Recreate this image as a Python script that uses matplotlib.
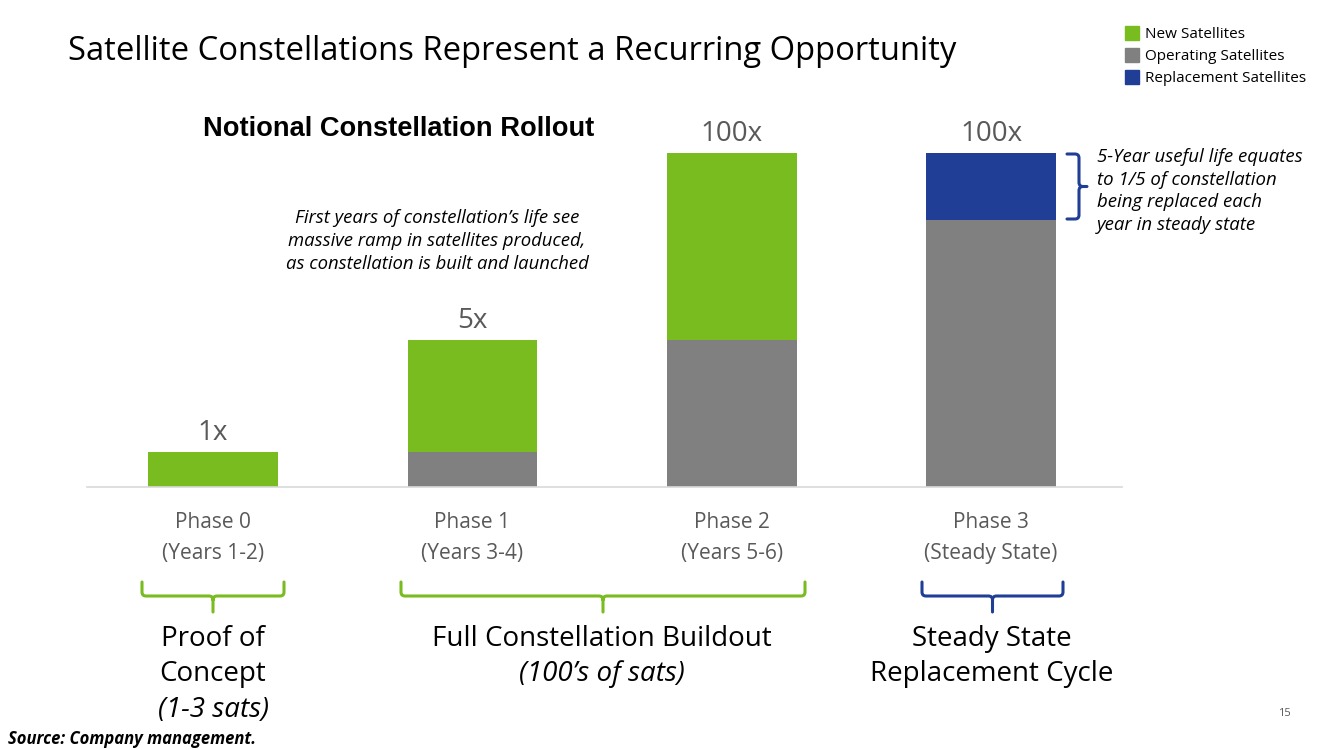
import matplotlib
matplotlib.use("Agg")
import matplotlib.pyplot as plt
from matplotlib.path import Path
from matplotlib.patches import PathPatch, Rectangle

plt.rcParams['font.family'] = ['Open Sans', 'DejaVu Sans']

# data (notional heights)
phases = ["Phase 0\n(Years 1-2)", "Phase 1\n(Years 3-4)", "Phase 2\n(Years 5-6)", "Phase 3\n(Steady State)"]
new_sats = [35, 112, 187, 0]
operating_sats = [0, 35, 147, 267]
replacement_sats = [0, 0, 0, 67]
bar_labels = ["1x", "5x", "100x", "100x"]

GREEN = "#78BC1F"
GREY = "#808080"
BLUE = "#213E96"
TXT = "#595959"

W, H = 1333, 750
fig = plt.figure(figsize=(W / 100, H / 100), dpi=100)
fig.patch.set_facecolor("white")

ax = fig.add_axes([87 / W, 1 - 487 / H, 1035 / W, 387 / H])
x = list(range(len(phases)))
ax.bar(x, operating_sats, width=0.5, color=GREY)
ax.bar(x, new_sats, width=0.5, bottom=operating_sats, color=GREEN)
bottom2 = [a + b for a, b in zip(operating_sats, new_sats)]
ax.bar(x, replacement_sats, width=0.5, bottom=bottom2, color=BLUE)
tops = [a + b for a, b in zip(bottom2, replacement_sats)]
for xi, t, lab in zip(x, tops, bar_labels):
    ax.text(xi, t + 19, lab, ha="center", va="center", fontsize=20, color=TXT)

ax.set_xlim(-0.486, 3.505)
ax.set_ylim(0, 387)
ax.set_yticks([])
ax.set_xticks(x)
ax.set_xticklabels(phases, fontsize=15, color=TXT, linespacing=1.6)
ax.tick_params(axis="x", length=0, pad=18)
for s in ["top", "right", "left"]:
    ax.spines[s].set_visible(False)
ax.spines["bottom"].set_color("#D9D9D9")
ax.spines["bottom"].set_linewidth(1.2)


def fx(px):
    return px / W


def fy(py):
    return 1 - py / H


def ftext(px, py, s, **kw):
    fig.text(fx(px), fy(py), s, **kw)


# titles
ftext(68, 52, "Satellite Constellations Represent a Recurring Opportunity",
      fontsize=23.6, color="black", va="center")
ftext(203, 129, "Notional Constellation Rollout", fontsize=19.6, fontweight="bold",
      family="Liberation Sans", va="center")

# legend
for i, (lab, c) in enumerate([("New Satellites", GREEN), ("Operating Satellites", GREY),
                              ("Replacement Satellites", BLUE)]):
    yy = 33 + 22 * i
    fig.patches.append(Rectangle((fx(1125), fy(yy + 7)), 14 / W, 14 / H,
                                 transform=fig.transFigure, color=c))
    ftext(1145, yy + 1, lab, fontsize=11, va="center")

# annotations
ftext(437, 241, "First years of constellation\u2019s life see\nmassive ramp in satellites produced,\nas constellation is built and launched",
      fontsize=13.3, style="italic", ha="center", va="center", linespacing=1.38)
ftext(1097, 191, "5-Year useful life equates\nto 1/5 of constellation\nbeing replaced each\nyear in steady state",
      fontsize=13.4, style="italic", ha="left", va="center", linespacing=1.33)


def hbrace(x0, x1, ytop, color):
    xm = (x0 + x1) / 2
    yh = ytop + 14
    r = 4
    verts = [(x0, ytop), (x0, yh - r), (x0, yh), (x0 + r, yh),
             (xm - r, yh), (xm, yh), (xm, yh + r), (xm, yh + 16)]
    codes = [Path.MOVETO, Path.LINETO, Path.CURVE3, Path.CURVE3,
             Path.LINETO, Path.CURVE3, Path.CURVE3, Path.LINETO]
    verts += [(xm, yh + r), (xm, yh), (xm + r, yh), (x1 - r, yh), (x1, yh), (x1, yh - r), (x1, ytop)]
    codes += [Path.MOVETO, Path.CURVE3, Path.CURVE3, Path.LINETO, Path.CURVE3, Path.CURVE3, Path.LINETO]
    verts = [(fx(a), fy(b)) for a, b in verts]
    fig.patches.append(PathPatch(Path(verts, codes), transform=fig.transFigure,
                                 fill=False, edgecolor=color, lw=2.2, capstyle="round"))


def vbrace(xl, y0, y1, color):
    ym = (y0 + y1) / 2
    xh = xl + 12
    r = 4
    verts = [(xl, y0), (xh - r, y0), (xh, y0), (xh, y0 + r), (xh, ym - r), (xh, ym), (xh + r, ym), (xh + 8, ym),
             (xh + r, ym), (xh, ym), (xh, ym + r), (xh, y1 - r), (xh, y1), (xh - r, y1), (xl, y1)]
    codes = [Path.MOVETO, Path.LINETO, Path.CURVE3, Path.CURVE3, Path.LINETO, Path.CURVE3, Path.CURVE3, Path.LINETO,
             Path.MOVETO, Path.CURVE3, Path.CURVE3, Path.LINETO, Path.CURVE3, Path.CURVE3, Path.LINETO]
    verts = [(fx(a), fy(b)) for a, b in verts]
    fig.patches.append(PathPatch(Path(verts, codes), transform=fig.transFigure,
                                 fill=False, edgecolor=color, lw=2.2, capstyle="round"))


hbrace(142, 284, 582, GREEN)
hbrace(401, 805, 582, GREEN)
hbrace(922, 1063, 582, BLUE)
vbrace(1067, 154, 219, BLUE)

# group labels
GS = 20
ftext(213, 639, "Proof of", fontsize=GS, ha="center", va="center")
ftext(213, 674, "Concept", fontsize=GS, ha="center", va="center")
ftext(213, 710, "(1-3 sats)", fontsize=GS, style="italic", ha="center", va="center")
ftext(602, 639, "Full Constellation Buildout", fontsize=GS, ha="center", va="center")
ftext(602, 674, "(100\u2019s of sats)", fontsize=GS, style="italic", ha="center", va="center")
ftext(992, 639, "Steady State", fontsize=GS, ha="center", va="center")
ftext(992, 674, "Replacement Cycle", fontsize=GS, ha="center", va="center")

ftext(8, 739, "Source: Company management.", fontsize=12, fontweight="bold", style="italic", va="center")
ftext(1284, 713, "15", fontsize=8, color=TXT, ha="center", va="center")

fig.savefig("out.png", dpi=100, facecolor="white")
